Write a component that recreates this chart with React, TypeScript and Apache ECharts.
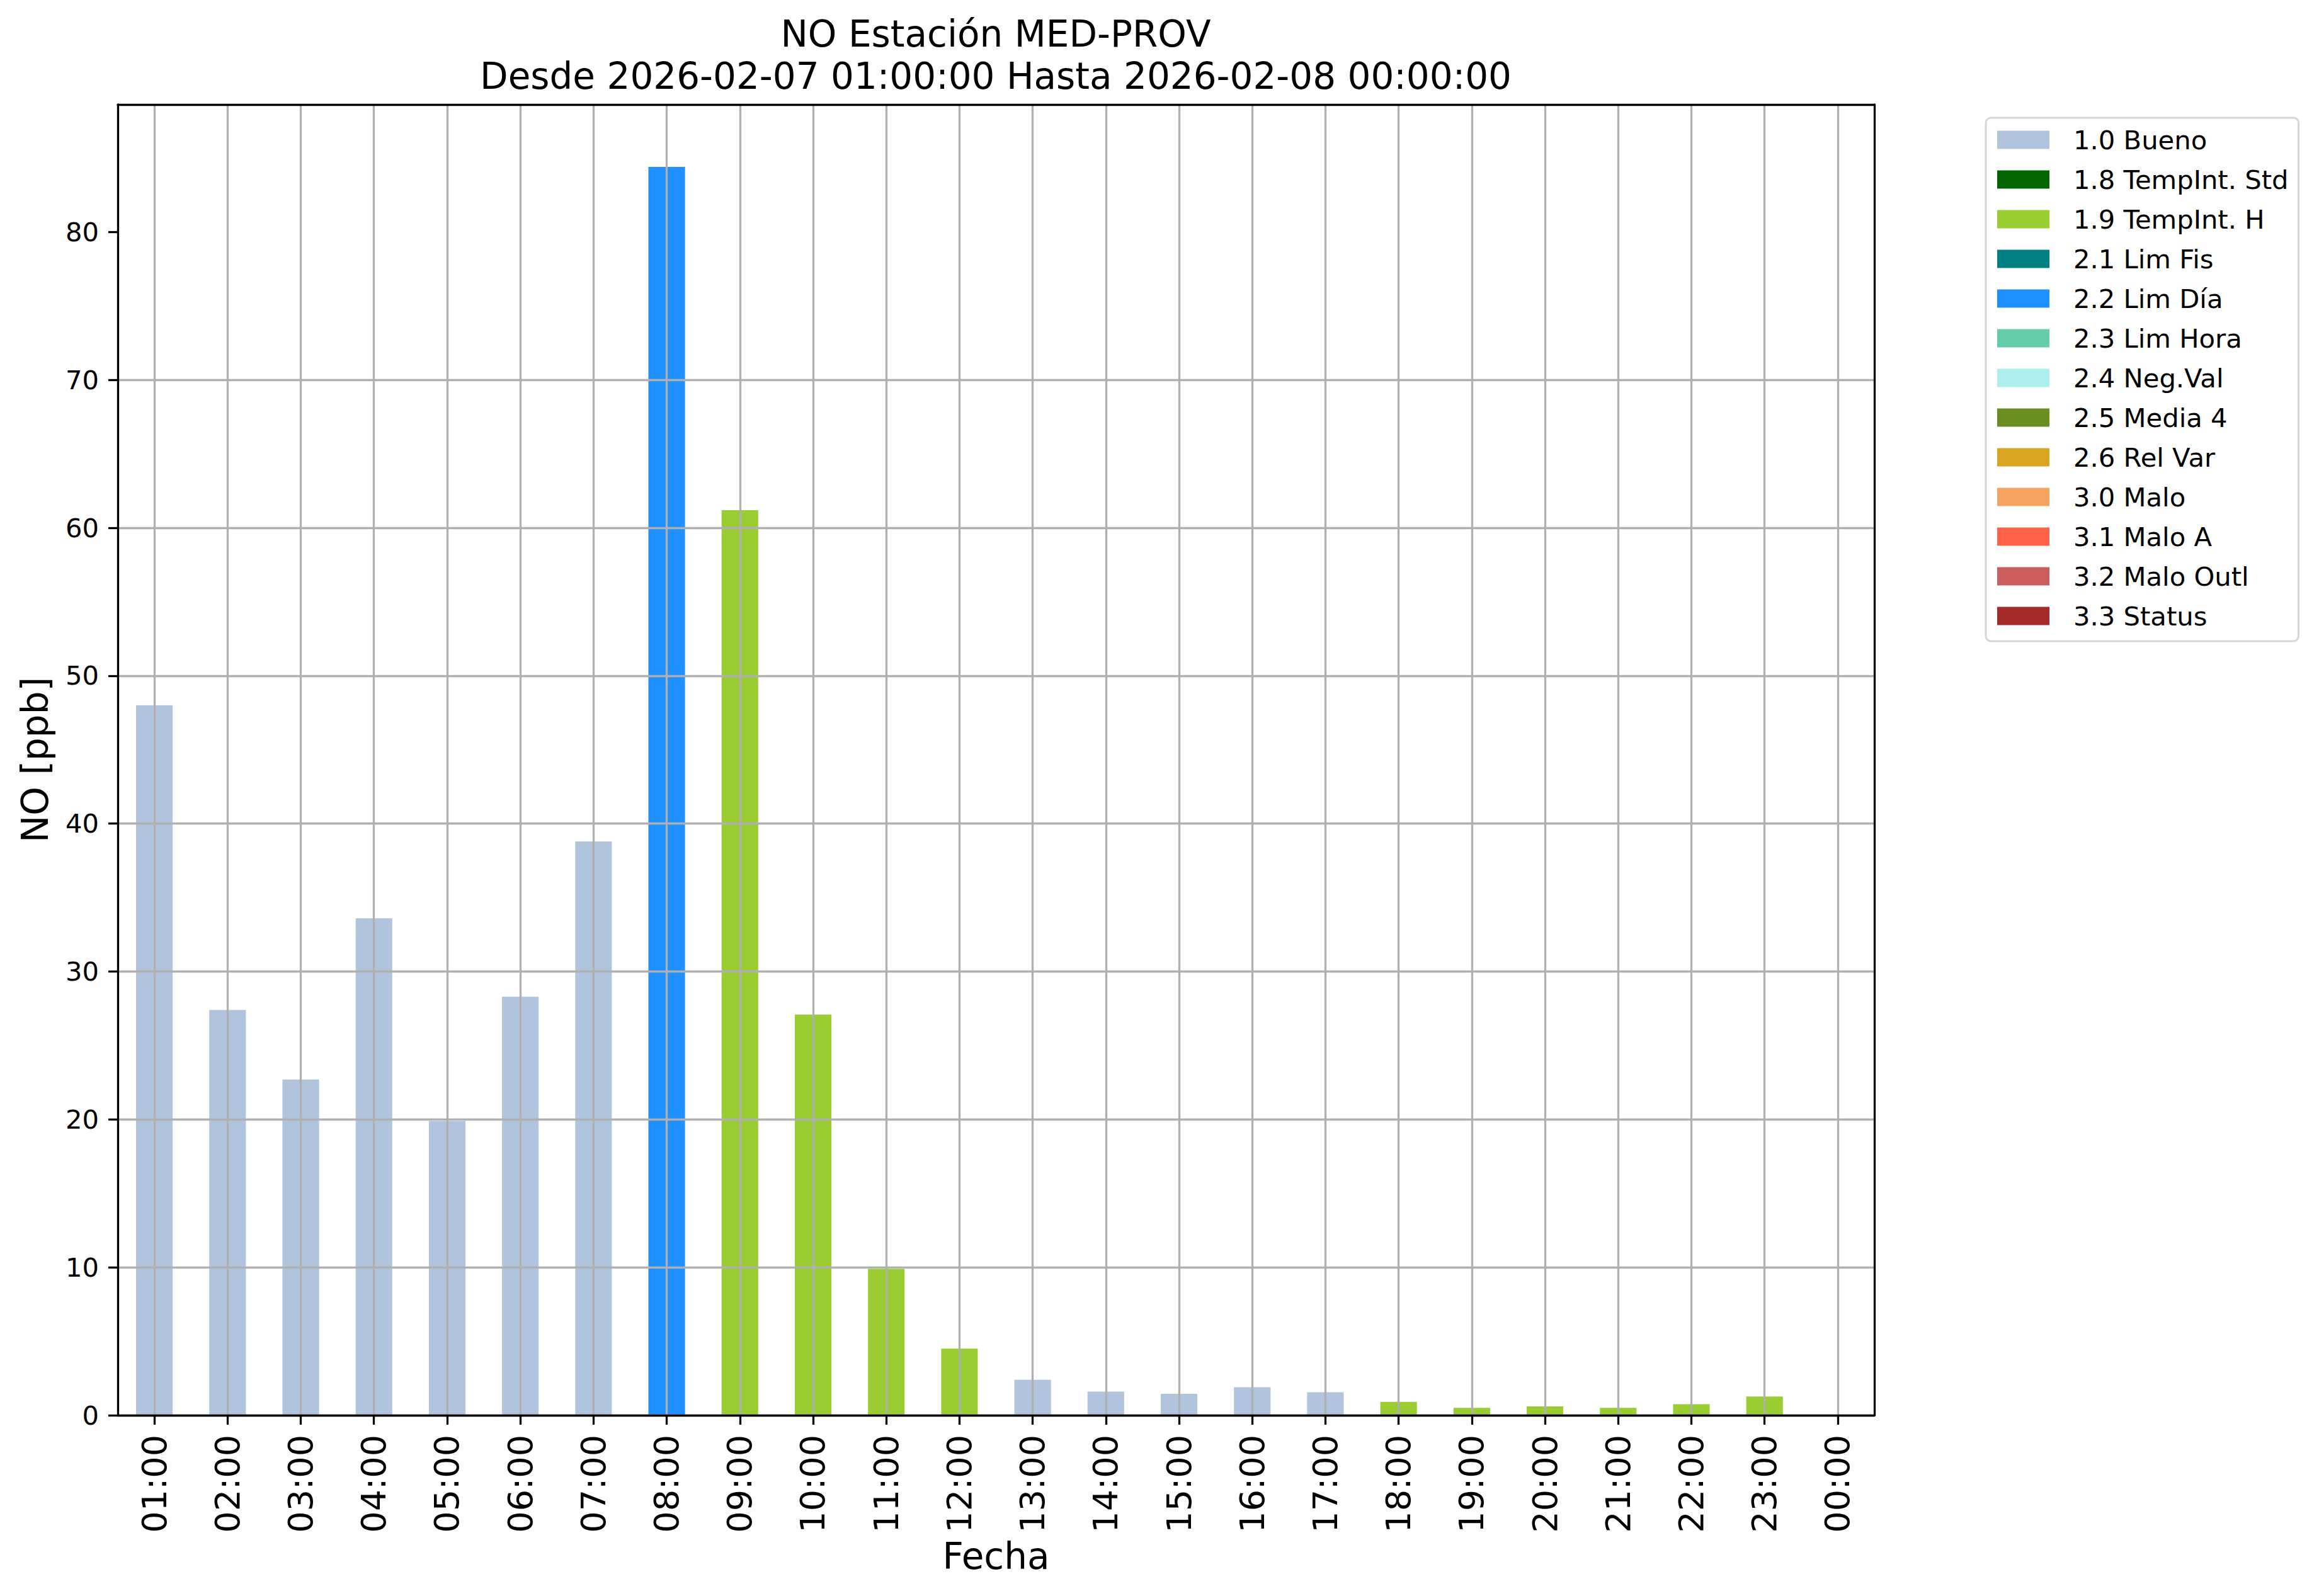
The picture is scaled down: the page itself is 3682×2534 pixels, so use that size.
import React, { useEffect, useRef } from "react";
import * as echarts from "echarts";

const hours = [
  "01:00", "02:00", "03:00", "04:00", "05:00", "06:00", "07:00", "08:00",
  "09:00", "10:00", "11:00", "12:00", "13:00", "14:00", "15:00", "16:00",
  "17:00", "18:00", "19:00", "20:00", "21:00", "22:00", "23:00", "00:00",
];

const values: (number | null)[] = [
  48.0, 27.4, 22.7, 33.6, 19.9, 28.3, 38.8, 84.4,
  61.2, 27.1, 9.9, 4.5, 2.4, 1.6, 1.45, 1.9,
  1.55, 0.9, 0.5, 0.6, 0.5, 0.75, 1.27, null,
];

const B = "1.0 Bueno";
const H = "1.9 TempInt. H";
const D = "2.2 Lim Día";
const flags: (string | null)[] = [
  B, B, B, B, B, B, B, D,
  H, H, H, H, B, B, B, B,
  B, H, H, H, H, H, H, null,
];

const flagNames = [
  "1.0 Bueno", "1.8 TempInt. Std", "1.9 TempInt. H", "2.1 Lim Fis",
  "2.2 Lim Día", "2.3 Lim Hora", "2.4 Neg.Val", "2.5 Media 4",
  "2.6 Rel Var", "3.0 Malo", "3.1 Malo A", "3.2 Malo Outl", "3.3 Status",
];
const flagColors = [
  "#B0C4DE", "#006400", "#9ACD32", "#008080",
  "#1E90FF", "#66CDAA", "#AFEEEE", "#6B8E23",
  "#DAA520", "#F4A460", "#FF6347", "#CD5C5C", "#A52A2A",
];

const yTicks = [0, 10, 20, 30, 40, 50, 60, 70, 80];

const title = "NO Estación MED-PROV\nDesde 2026-02-07 01:00:00 Hasta 2026-02-08 00:00:00";

export default function App() {
  const ref = useRef<HTMLDivElement>(null);
  useEffect(() => {
    if (!ref.current) return;
    const chart = echarts.init(ref.current, null, { renderer: "svg" });
    const font = "DejaVu Sans";
    const maxVal = Math.max(...(values.filter((v) => v !== null) as number[]));
    const yMax = maxVal * 1.05;

    const series = flagNames.map((name, k) => ({
      name,
      type: "bar",
      stack: "all",
      barWidth: "50%",
      itemStyle: { color: flagColors[k] },
      data: values.map((v, i) => (flags[i] === name && v !== null ? v : "-")),
      z: 2,
    }));

    const option: any = {
      animation: false,
      backgroundColor: "#ffffff",
      textStyle: { fontFamily: font },
      title: {
        text: title,
        left: 1581,
        top: 20,
        padding: 0,
        textAlign: "center",
        textStyle: {
          fontFamily: font,
          fontSize: 58,
          fontWeight: "normal",
          color: "#000",
          lineHeight: 67,
        },
      },
      legend: {
        orient: "vertical",
        left: 3153,
        top: 187,
        padding: [14, 16, 19, 18],
        itemWidth: 83,
        itemHeight: 29,
        itemGap: 21,
        icon: "rect",
        selectedMode: false,
        borderColor: "#d6d6d6",
        borderWidth: 3,
        borderRadius: 8,
        backgroundColor: "#ffffff",
        data: flagNames,
        textStyle: {
          fontFamily: font,
          fontSize: 41.7,
          color: "#000",
          padding: [0, 0, 0, 33],
        },
      },
      grid: { left: 187, right: 706, top: 166, bottom: 287, containLabel: false },
      xAxis: [
        {
          type: "category",
          data: hours,
          z: 3,
          boundaryGap: true,
          name: "Fecha",
          nameLocation: "middle",
          nameGap: 195,
          nameTextStyle: { fontFamily: font, fontSize: 58, color: "#000" },
          axisLine: { show: true, lineStyle: { color: "#000", width: 3.3 } },
          axisTick: { show: true, alignWithLabel: true, interval: 0, length: 15, lineStyle: { color: "#000", width: 3.3 } },
          axisLabel: { interval: 0, rotate: 90, margin: 31, fontFamily: font, fontSize: 54, color: "#000" },
          splitLine: { show: true, alignWithLabel: true, interval: 0, lineStyle: { color: "#b0b0b0", width: 3.3 } },
        },
        {
          type: "category",
          data: hours,
          position: "top",
          z: 4,
          axisLine: { show: true, onZero: false, lineStyle: { color: "#000", width: 3.3 } },
          axisTick: { show: false },
          axisLabel: { show: false },
          splitLine: { show: false },
        },
      ],
      yAxis: [
        {
          type: "value",
          min: 0,
          max: yMax,
          interval: 10,
          z: 3,
          name: "NO [ppb]",
          nameLocation: "middle",
          nameGap: 102,
          nameTextStyle: { fontFamily: font, fontSize: 58, color: "#000" },
          axisLine: { show: true, lineStyle: { color: "#000", width: 3.3 } },
          axisTick: { show: true, length: 15, customValues: yTicks, lineStyle: { color: "#000", width: 3.3 } },
          axisLabel: { margin: 30, customValues: yTicks, fontFamily: font, fontSize: 41.7, color: "#000" },
          splitLine: { show: true, showMaxLine: false, lineStyle: { color: "#b0b0b0", width: 3.3 } },
        },
        {
          type: "value",
          min: 0,
          max: yMax,
          position: "right",
          z: 4,
          axisLine: { show: true, onZero: false, lineStyle: { color: "#000", width: 3.3 } },
          axisTick: { show: false },
          axisLabel: { show: false },
          splitLine: { show: false },
        },
      ],
      series,
    };
    chart.setOption(option);
    return () => chart.dispose();
  }, []);
  return (
    <div
      ref={ref}
      style={{ position: "absolute", left: 0, top: 0, width: 3682, height: 2534, background: "#fff" }}
    />
  );
}
